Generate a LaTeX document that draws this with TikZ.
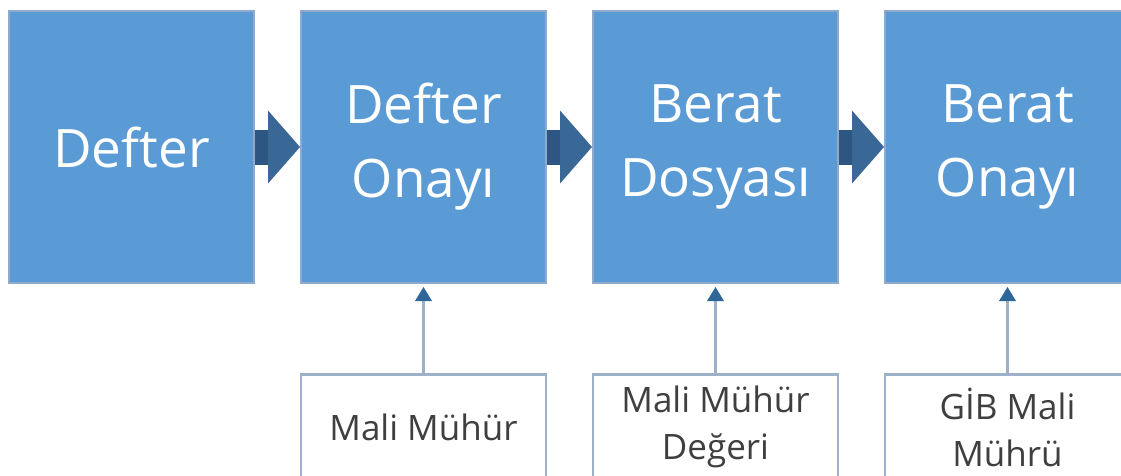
\documentclass[tikz,border=0pt]{standalone}
\usepackage{fontspec}
\setmainfont{Open Sans}
\usetikzlibrary{positioning,arrows.meta}
\definecolor{boxblue}{HTML}{5B9BD5}
\definecolor{boxedge}{HTML}{8FAACB}
\definecolor{chevbody}{HTML}{2D5782}
\definecolor{chevhead}{HTML}{3A6896}
\definecolor{noteedge}{HTML}{9DB2C9}
\definecolor{tipblue}{HTML}{2F6699}
\definecolor{notetext}{HTML}{3F3F3F}
\begin{document}
\begin{tikzpicture}[x=1pt,y=-1pt,
        node distance=45pt,
        stepbox/.style={fill=boxblue,draw=boxedge,line width=2pt,minimum width=245pt,minimum height=272pt,
          inner sep=0pt,text=white,align=center,font=\fontsize{53}{74}\selectfont},
        notebox/.style={fill=white,draw=noteedge,line width=2.5pt,minimum width=245pt,minimum height=106pt,
          inner sep=0pt,text=notetext,align=center,font=\fontsize{35}{47}\selectfont},
        chevron/.style={draw=chevbody,line width=35pt,
          -{Triangle[width=73pt,length=32pt,line width=0pt,fill=chevhead,color=chevhead]}},
        feed/.style={draw=noteedge,line width=3pt,shorten >=3pt,
          -{Triangle[width=17pt,length=14pt,line width=0pt,fill=tipblue,color=tipblue]}}]
        \useasboundingbox (0,0) rectangle (1121,475);
        % steps
        \node [stepbox] (defter) at (131.5,147) {Defter};
        \node [stepbox, right=of defter] (onay) {Defter\\Onayı};
        \node [stepbox, right=of onay] (dosya) {Berat\\Dosyası};
        \node [stepbox, right=of dosya] (beratonay) {Berat\\Onayı};
        % inputs
        \node [notebox, below=89pt of onay] (muhur) {Mali Mühür};
        \node [notebox, below=89pt of dosya] (deger) {Mali Mühür\\Değeri};
        \node [notebox, below=89pt of beratonay] (gib) {GİB Mali\\Mührü};
        % arrows
        \draw [chevron] (defter.east) -- (onay.west);
        \draw [chevron] (onay.east) -- (dosya.west);
        \draw [chevron] (dosya.east) -- (beratonay.west);
        \draw [feed] (muhur.north) -- (onay.south);
        \draw [feed] (deger.north) -- (dosya.south);
        \draw [feed] (gib.north) -- (beratonay.south);
\end{tikzpicture}
\end{document}
